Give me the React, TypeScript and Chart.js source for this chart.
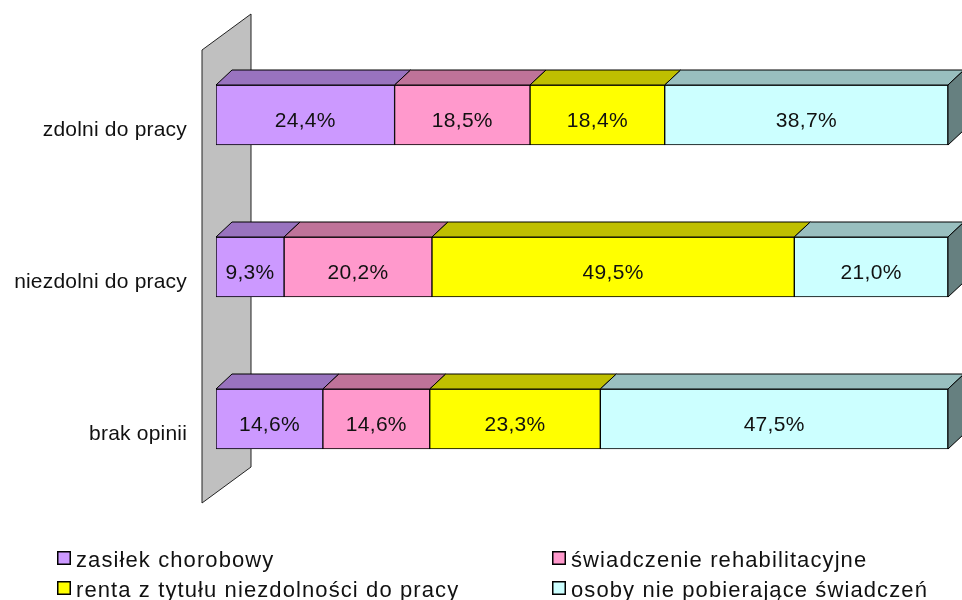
import React, { useEffect, useRef } from "react";
import { Chart, registerables } from "chart.js";

Chart.register(...registerables);

const categories = ["zdolni do pracy", "niezdolni do pracy", "brak opinii"];
const seriesNames = [
  "zasiłek chorobowy",
  "świadczenie rehabilitacyjne",
  "renta z tytułu niezdolności do pracy",
  "osoby nie pobierające świadczeń",
];
const zasilek = [24.4, 9.3, 14.6];
const swiadczenie = [18.5, 20.2, 14.6];
const renta = [18.4, 49.5, 23.3];
const osoby = [38.7, 21.0, 47.5];
const seriesValues = [zasilek, swiadczenie, renta, osoby];

const frontColors = ["#CC99FF", "#FF99CC", "#FFFF00", "#CCFFFF"];
const topColors = ["#9973BF", "#BF7399", "#BFBF00", "#99BFBF"];
const sideColors = ["#664D80", "#804D66", "#808000", "#668080"];

const DX = 16;
const DY = -15;
const FONT = "Arial, 'Liberation Sans', sans-serif";

const fmt = (v: number) => v.toFixed(1).replace(".", ",") + "%";

const threeD = {
  id: "threeD",
  beforeDatasetsDraw(chart: any) {
    const ctx = chart.ctx;
    const ca = chart.chartArea;
    ctx.save();
    const wl = ca.left - 14;
    const wr = ca.left + 35;
    ctx.beginPath();
    ctx.moveTo(wl, 50);
    ctx.lineTo(wr, 14);
    ctx.lineTo(wr, 467);
    ctx.lineTo(wl, 503);
    ctx.closePath();
    ctx.fillStyle = "#C0C0C0";
    ctx.fill();
    ctx.strokeStyle = "#222";
    ctx.lineWidth = 1;
    ctx.stroke();
    ctx.restore();
  },
  afterDatasetsDraw(chart: any) {
    const ctx = chart.ctx;
    ctx.save();
    ctx.lineWidth = 1;
    ctx.strokeStyle = "#000";
    const n = chart.data.datasets.length;
    for (let d = 0; d < n; d++) {
      const meta = chart.getDatasetMeta(d);
      meta.data.forEach((el: any) => {
        const p = el.getProps(["x", "y", "base", "height"], true);
        const x0 = Math.min(p.base, p.x);
        const x1 = Math.max(p.base, p.x);
        const y0 = p.y - p.height / 2;
        const y1 = p.y + p.height / 2;
        ctx.beginPath();
        ctx.moveTo(x0, y0);
        ctx.lineTo(x0 + DX, y0 + DY);
        ctx.lineTo(x1 + DX, y0 + DY);
        ctx.lineTo(x1, y0);
        ctx.closePath();
        ctx.fillStyle = topColors[d];
        ctx.fill();
        ctx.stroke();
        if (d === n - 1) {
          ctx.beginPath();
          ctx.moveTo(x1, y0);
          ctx.lineTo(x1 + DX, y0 + DY);
          ctx.lineTo(x1 + DX, y1 + DY);
          ctx.lineTo(x1, y1);
          ctx.closePath();
          ctx.fillStyle = sideColors[d];
          ctx.fill();
          ctx.stroke();
        }
      });
    }
    // data labels
    ctx.fillStyle = "#111";
    ctx.font = `21px ${FONT}`;
    (ctx as any).letterSpacing = "0.3px";
    ctx.textAlign = "center";
    ctx.textBaseline = "alphabetic";
    for (let d = 0; d < n; d++) {
      const meta = chart.getDatasetMeta(d);
      meta.data.forEach((el: any, i: number) => {
        const p = el.getProps(["x", "y", "base"], true);
        const v = chart.data.datasets[d].data[i];
        ctx.fillText(fmt(v), (p.x + p.base) / 2, p.y + 12);
      });
    }
    // category labels
    ctx.textAlign = "right";
    (ctx as any).letterSpacing = "0.2px";
    const yScale = chart.scales.y;
    chart.data.labels.forEach((lab: string, i: number) => {
      const y = yScale.getPixelForValue(i);
      ctx.fillText(lab, 187, y + 21);
    });
    // legend
    ctx.font = `22px ${FONT}`;
    (ctx as any).letterSpacing = "1.1px";
    ctx.textAlign = "left";
    const cols = [57, 552];
    const rows = [551, 581];
    chart.data.datasets.forEach((ds: any, k: number) => {
      const cx = cols[k % 2];
      const ry = rows[Math.floor(k / 2)];
      ctx.fillStyle = ds.backgroundColor;
      ctx.fillRect(cx, ry, 14, 14);
      ctx.strokeStyle = "#000";
      ctx.lineWidth = 1.5;
      ctx.strokeRect(cx + 0.75, ry + 0.75, 12.5, 12.5);
      ctx.fillStyle = "#111";
      ctx.fillText(ds.label, cx + 19, ry + 16);
    });
    ctx.restore();
  },
};

export default function App() {
  const ref = useRef<HTMLCanvasElement | null>(null);
  useEffect(() => {
    document.body.style.margin = "0";
    const canvas = ref.current;
    if (!canvas) return;
    const chart = new Chart(canvas, {
      type: "bar",
      data: {
        labels: categories,
        datasets: seriesValues.map((vals, k) => ({
          label: seriesNames[k],
          data: vals,
          backgroundColor: frontColors[k],
          borderColor: "#000",
          borderWidth: 1,
          borderSkipped: false,
          barThickness: 60,
        })),
      },
      options: {
        indexAxis: "y",
        responsive: false,
        animation: false,
        layout: { padding: { left: 216, right: 14, top: 39, bottom: 105 } },
        scales: {
          x: { stacked: true, min: 0, max: 100, display: false },
          y: { stacked: true, display: false },
        },
        plugins: {
          legend: { display: false },
          tooltip: { enabled: false },
        },
      },
      plugins: [threeD],
    });
    return () => chart.destroy();
  }, []);
  return <canvas ref={ref} width={962} height={600} />;
}
